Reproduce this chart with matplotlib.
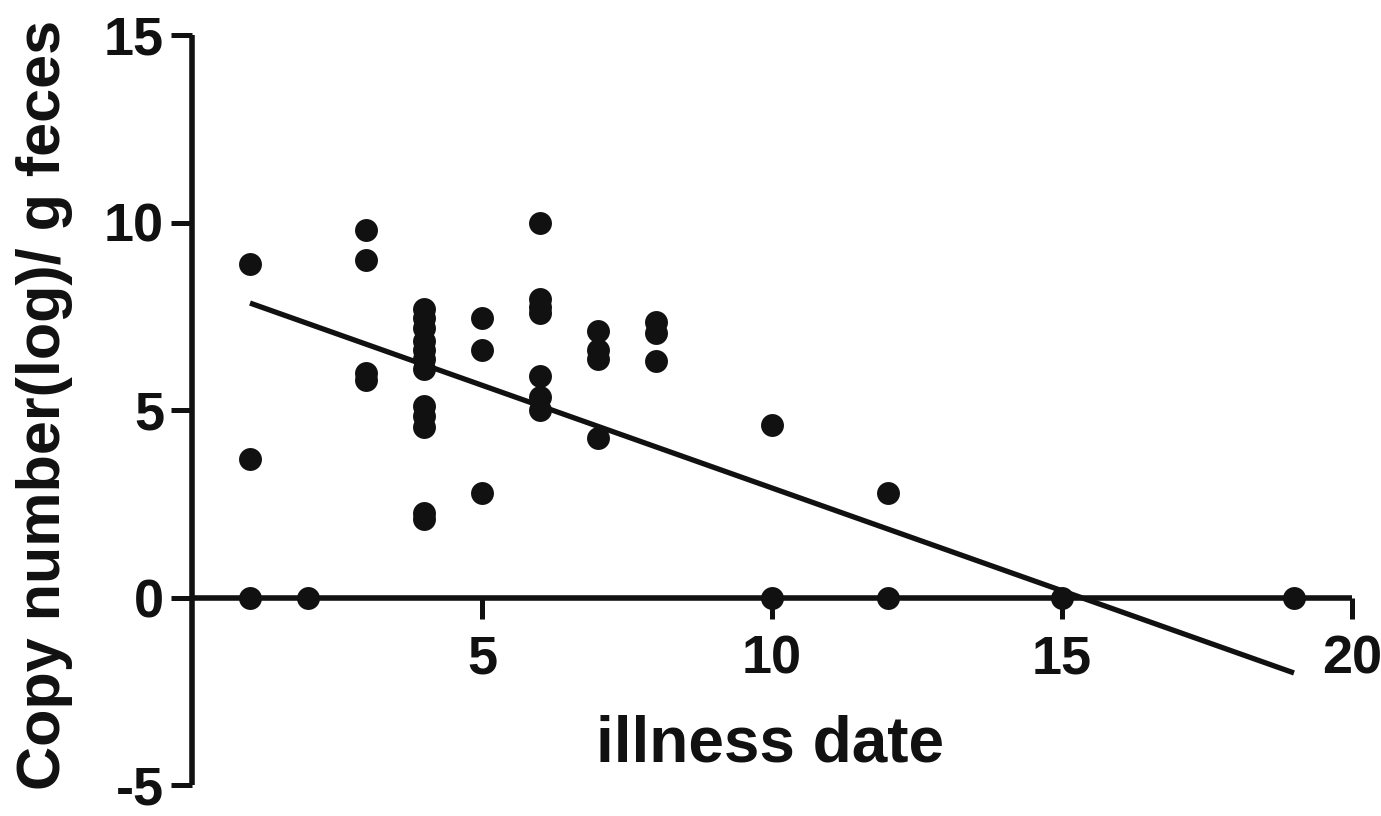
import matplotlib
matplotlib.use("Agg")
import matplotlib.pyplot as plt
import numpy as np

# ---- data ----
illness_day = [1, 1, 1,
               2,
               3, 3, 3, 3,
               4, 4, 4, 4, 4, 4, 4, 4, 4, 4, 4, 4,
               5, 5, 5,
               6, 6, 6, 6, 6, 6, 6,
               7, 7, 7, 7,
               8, 8, 8,
               10, 10,
               12, 12,
               15,
               19]
copy_number = [8.9, 3.7, 0.0,
               0.0,
               9.8, 9.0, 6.0, 5.8,
               7.7, 7.45, 7.2, 6.85, 6.6, 6.35, 6.1, 5.1, 4.85, 4.55, 2.25, 2.1,
               7.45, 6.6, 2.8,
               10.0, 7.95, 7.75, 7.6, 5.9, 5.35, 5.0,
               7.1, 6.6, 6.35, 4.25,
               7.35, 7.05, 6.3,
               4.6, 0.0,
               2.8, 0.0,
               0.0,
               0.0]
fit_intercept = 8.40
fit_slope = -0.548
fit_range = [1, 19]

x_ticks = [5, 10, 15, 20]
y_ticks = [-5, 0, 5, 10, 15]

plt.rcParams['font.family'] = ['Liberation Sans', 'DejaVu Sans']
plt.rcParams['font.weight'] = 'bold'

W, H = 1381, 816
fig = plt.figure(figsize=(W / 100, H / 100), dpi=100)
ax = fig.add_axes([192 / W, 1 - 785 / H, (1352 - 192) / W, (785 - 35) / H])

ink = '#111111'
ax.plot(illness_day, copy_number, 'o', color=ink, markersize=16.5,
        markeredgewidth=0, clip_on=False, zorder=5)

fx = np.array(fit_range, dtype=float)
ax.plot(fx, fit_intercept + fit_slope * fx, color=ink, linewidth=3.8,
        solid_capstyle='butt', zorder=4, clip_on=False)

ax.set_xlim(0, 20)
ax.set_ylim(-5, 15)
ax.spines['top'].set_visible(False)
ax.spines['right'].set_visible(False)
ax.spines['bottom'].set_position(('data', 0))
for s in ('left', 'bottom'):
    ax.spines[s].set_linewidth(4.0)
    ax.spines[s].set_color(ink)
    ax.spines[s].set_capstyle('butt')

ax.set_xticks(x_ticks)
ax.set_yticks(y_ticks)
ax.set_xticklabels([str(v) for v in x_ticks])
ax.set_yticklabels([str(v) for v in y_ticks])
ax.tick_params(axis='both', direction='out', length=15, width=3.6, color=ink,
               labelsize=39, labelcolor=ink)
ax.tick_params(axis='x', pad=12)
ax.tick_params(axis='y', pad=5)
for lab in ax.get_xticklabels() + ax.get_yticklabels():
    lab.set_fontweight('bold')

fig.text(770 / W, 1 - 745 / H, 'illness date', ha='center', va='center',
         fontsize=46, fontweight='bold', color=ink)
fig.text(45 / W, 1 - 405 / H, 'Copy number(log)/ g feces', ha='center',
         va='center', rotation=90, fontsize=44, fontweight='bold', color=ink)

fig.savefig('out.png', dpi=100)
